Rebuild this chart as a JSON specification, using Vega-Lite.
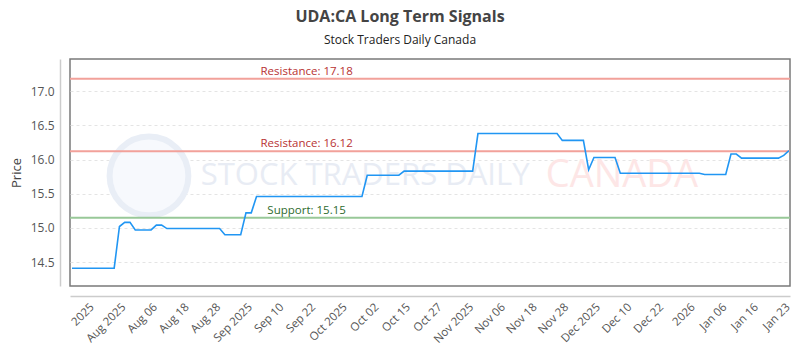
{
  "$schema": "https://vega.github.io/schema/vega-lite/v6.json",
  "autosize": "none",
  "width": 720,
  "height": 227,
  "padding": {"left": 70, "top": 59, "right": 10, "bottom": 64},
  "background": "white",
  "config": {
    "font": "Open Sans",
    "view": {"stroke": "#7a7a7a", "strokeWidth": 1.5},
    "axis": {"labelOverlap": false}
  },
  "title": {
    "text": "UDA:CA Long Term Signals",
    "subtitle": "Stock Traders Daily Canada",
    "fontSize": 16,
    "fontWeight": "bold",
    "color": "#444444",
    "subtitleFontSize": 12,
    "subtitleColor": "#222222",
    "anchor": "middle",
    "dx": -30,
    "offset": 13,
    "subtitlePadding": 10
  },
  "datasets": {
    "prices": [
      {"day": 0, "price": 14.41}, {"day": 1, "price": 14.41}, {"day": 2, "price": 14.41}, {"day": 3, "price": 14.41},
      {"day": 4, "price": 14.41}, {"day": 5, "price": 14.41}, {"day": 6, "price": 14.41}, {"day": 7, "price": 14.41},
      {"day": 8, "price": 14.41}, {"day": 9, "price": 15.02}, {"day": 10, "price": 15.08}, {"day": 11, "price": 15.08},
      {"day": 12, "price": 14.97}, {"day": 13, "price": 14.97}, {"day": 14, "price": 14.97}, {"day": 15, "price": 14.97},
      {"day": 16, "price": 15.04}, {"day": 17, "price": 15.04}, {"day": 18, "price": 14.99}, {"day": 19, "price": 14.99},
      {"day": 20, "price": 14.99}, {"day": 21, "price": 14.99}, {"day": 22, "price": 14.99}, {"day": 23, "price": 14.99},
      {"day": 24, "price": 14.99}, {"day": 25, "price": 14.99}, {"day": 26, "price": 14.99}, {"day": 27, "price": 14.99},
      {"day": 28, "price": 14.99}, {"day": 29, "price": 14.90}, {"day": 30, "price": 14.90}, {"day": 31, "price": 14.90},
      {"day": 32, "price": 14.90}, {"day": 33, "price": 15.22}, {"day": 34, "price": 15.22}, {"day": 35, "price": 15.46},
      {"day": 36, "price": 15.46}, {"day": 37, "price": 15.46}, {"day": 38, "price": 15.46}, {"day": 39, "price": 15.46},
      {"day": 40, "price": 15.46}, {"day": 41, "price": 15.46}, {"day": 42, "price": 15.46}, {"day": 43, "price": 15.46},
      {"day": 44, "price": 15.46}, {"day": 45, "price": 15.46}, {"day": 46, "price": 15.46}, {"day": 47, "price": 15.46},
      {"day": 48, "price": 15.46}, {"day": 49, "price": 15.46}, {"day": 50, "price": 15.46}, {"day": 51, "price": 15.46},
      {"day": 52, "price": 15.46}, {"day": 53, "price": 15.46}, {"day": 54, "price": 15.46}, {"day": 55, "price": 15.46},
      {"day": 56, "price": 15.77}, {"day": 57, "price": 15.77}, {"day": 58, "price": 15.77}, {"day": 59, "price": 15.77},
      {"day": 60, "price": 15.77}, {"day": 61, "price": 15.77}, {"day": 62, "price": 15.77}, {"day": 63, "price": 15.83},
      {"day": 64, "price": 15.83}, {"day": 65, "price": 15.83}, {"day": 66, "price": 15.83}, {"day": 67, "price": 15.83},
      {"day": 68, "price": 15.83}, {"day": 69, "price": 15.83}, {"day": 70, "price": 15.83}, {"day": 71, "price": 15.83},
      {"day": 72, "price": 15.83}, {"day": 73, "price": 15.83}, {"day": 74, "price": 15.83}, {"day": 75, "price": 15.83},
      {"day": 76, "price": 15.83}, {"day": 77, "price": 16.38}, {"day": 78, "price": 16.38}, {"day": 79, "price": 16.38},
      {"day": 80, "price": 16.38}, {"day": 81, "price": 16.38}, {"day": 82, "price": 16.38}, {"day": 83, "price": 16.38},
      {"day": 84, "price": 16.38}, {"day": 85, "price": 16.38}, {"day": 86, "price": 16.38}, {"day": 87, "price": 16.38},
      {"day": 88, "price": 16.38}, {"day": 89, "price": 16.38}, {"day": 90, "price": 16.38}, {"day": 91, "price": 16.38},
      {"day": 92, "price": 16.38}, {"day": 93, "price": 16.28}, {"day": 94, "price": 16.28}, {"day": 95, "price": 16.28},
      {"day": 96, "price": 16.28}, {"day": 97, "price": 16.28}, {"day": 98, "price": 15.85}, {"day": 99, "price": 16.03},
      {"day": 100, "price": 16.03}, {"day": 101, "price": 16.03}, {"day": 102, "price": 16.03}, {"day": 103, "price": 16.03},
      {"day": 104, "price": 15.80}, {"day": 105, "price": 15.80}, {"day": 106, "price": 15.80}, {"day": 107, "price": 15.80},
      {"day": 108, "price": 15.80}, {"day": 109, "price": 15.80}, {"day": 110, "price": 15.80}, {"day": 111, "price": 15.80},
      {"day": 112, "price": 15.80}, {"day": 113, "price": 15.80}, {"day": 114, "price": 15.80}, {"day": 115, "price": 15.80},
      {"day": 116, "price": 15.80}, {"day": 117, "price": 15.80}, {"day": 118, "price": 15.80}, {"day": 119, "price": 15.80},
      {"day": 120, "price": 15.78}, {"day": 121, "price": 15.78}, {"day": 122, "price": 15.78}, {"day": 123, "price": 15.78},
      {"day": 124, "price": 15.78}, {"day": 125, "price": 16.08}, {"day": 126, "price": 16.08}, {"day": 127, "price": 16.02},
      {"day": 128, "price": 16.02}, {"day": 129, "price": 16.02}, {"day": 130, "price": 16.02}, {"day": 131, "price": 16.02},
      {"day": 132, "price": 16.02}, {"day": 133, "price": 16.02}, {"day": 134, "price": 16.02}, {"day": 135, "price": 16.06},
      {"day": 136, "price": 16.13}
    ],
    "levels": [
      {"level": 17.18, "kind": "Resistance", "label": "Resistance: 17.18"},
      {"level": 16.12, "kind": "Resistance", "label": "Resistance: 16.12"},
      {"level": 15.15, "kind": "Support", "label": "Support: 15.15"}
    ],
    "watermark": [
      {"day": 55.6, "price": 15.76, "text": "STOCK TRADERS DAILY", "part": "a"},
      {"day": 104.3, "price": 15.76, "text": "CANADA", "part": "b"}
    ],
    "logo": [
      {"day": 14.6, "price": 15.76}
    ]
  },
  "layer": [
    {
      "data": {"name": "logo"},
      "mark": {"type": "point", "shape": "circle", "size": 6200, "filled": false, "stroke": "#e9eef6", "strokeWidth": 6, "fill": "#f7f9fd", "fillOpacity": 1},
      "encoding": {
        "x": {"field": "day", "type": "quantitative"},
        "y": {"field": "price", "type": "quantitative"}
      }
    },
    {
      "data": {"name": "watermark"},
      "transform": [{"filter": "datum.part == 'a'"}],
      "mark": {"type": "text", "font": "Open Sans", "fontSize": 31, "color": "#e8ecf4", "baseline": "middle", "align": "center"},
      "encoding": {
        "x": {"field": "day", "type": "quantitative"},
        "y": {"field": "price", "type": "quantitative"},
        "text": {"field": "text"}
      }
    },
    {
      "data": {"name": "watermark"},
      "transform": [{"filter": "datum.part == 'b'"}],
      "mark": {"type": "text", "font": "Open Sans", "fontSize": 38, "color": "#fde6e6", "baseline": "middle", "align": "center"},
      "encoding": {
        "x": {"field": "day", "type": "quantitative"},
        "y": {"field": "price", "type": "quantitative"},
        "text": {"field": "text"}
      }
    },
    {
      "data": {"name": "levels"},
      "mark": {"type": "rule", "strokeWidth": 2},
      "encoding": {
        "y": {"field": "level", "type": "quantitative"},
        "color": {"condition": {"test": "datum.kind == 'Support'", "value": "#98c898"}, "value": "#f2a19a"}
      }
    },
    {
      "data": {"name": "levels"},
      "mark": {"type": "text", "fontSize": 11.5, "baseline": "bottom", "align": "center", "dy": -2},
      "encoding": {
        "x": {"datum": 44.5, "type": "quantitative"},
        "y": {"field": "level", "type": "quantitative"},
        "text": {"field": "label"},
        "color": {"condition": {"test": "datum.kind == 'Support'", "value": "#2e6b2e"}, "value": "#b83232"}
      }
    },
    {
      "data": {"name": "prices"},
      "mark": {"type": "line", "color": "#2196f3", "strokeWidth": 1.6},
      "encoding": {
        "x": {
          "field": "day",
          "type": "quantitative",
          "scale": {"domain": [-0.38, 136.19], "nice": false, "zero": false},
          "axis": {
            "title": null,
            "values": [3, 9, 15, 21, 27, 33, 39, 45, 51, 57, 63, 69, 75, 81, 87, 93, 99, 105, 111, 117, 123, 129, 135],
            "tickCount": 60,
            "labelExpr": "['2025','Aug 2025','Aug 06','Aug 18','Aug 28','Sep 2025','Sep 10','Sep 22','Oct 2025','Oct 02','Oct 15','Oct 27','Nov 2025','Nov 06','Nov 18','Nov 28','Dec 2025','Dec 10','Dec 22','2026','Jan 06','Jan 16','Jan 23'][round((datum.value - 3) / 6)]",
            "labelAngle": -45,
            "labelAlign": "right",
            "labelBaseline": "top",
            "labelFontSize": 11.5,
            "labelColor": "#555555",
            "labelPadding": 5,
            "labelOverlap": false,
            "labelFlush": false,
            "ticks": false,
            "grid": false,
            "domainColor": "#cccccc",
            "domainWidth": 1.5,
            "offset": 10
          }
        },
        "y": {
          "field": "price",
          "type": "quantitative",
          "scale": {"domain": [14.15, 17.47], "nice": false, "zero": false},
          "axis": {
            "title": "Price",
            "titleFontSize": 13,
            "titleFontWeight": "normal",
            "titleColor": "#444444",
            "titlePadding": 7,
            "values": [14.5, 15, 15.5, 16, 16.5, 17],
            "format": ".1f",
            "labelFontSize": 12,
            "labelColor": "#555555",
            "labelPadding": 6,
            "ticks": false,
            "grid": true,
            "gridColor": "#e4e4e4",
            "gridDash": [3, 3],
            "domainColor": "#cccccc",
            "domainWidth": 1.5,
            "offset": 10
          }
        }
      }
    }
  ]
}
